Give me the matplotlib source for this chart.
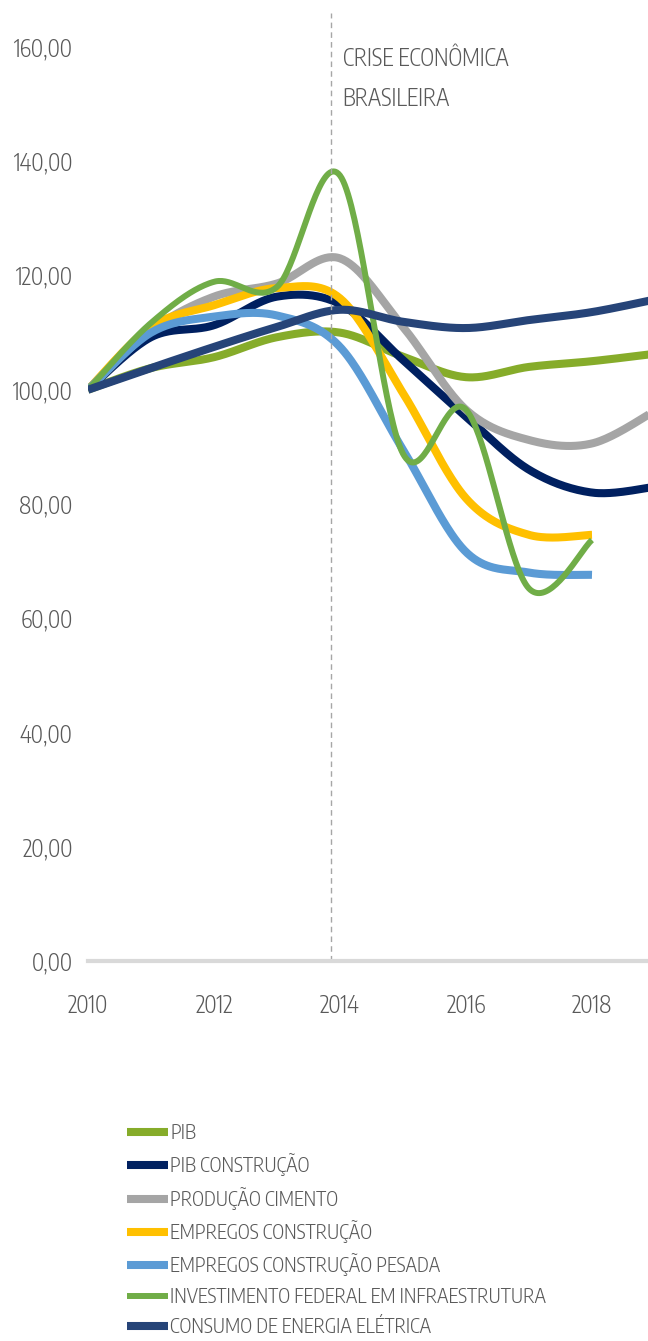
import numpy as np
import matplotlib
matplotlib.use("Agg")
import matplotlib.pyplot as plt

plt.rcParams['font.family'] = ['Encode Sans Condensed', 'DejaVu Sans']
plt.rcParams['font.weight'] = 300

years = [2010, 2011, 2012, 2013, 2014, 2015, 2016, 2017, 2018, 2019]

pib = [100, 103.8, 105.7, 109.2, 110.0, 105.8, 102.2, 104.0, 105.0, 106.3]
pib_construcao = [100, 109.2, 111.3, 116.3, 115.0, 105.2, 95.3, 86.0, 82.0, 83.0]
producao_cimento = [100, 110.4, 116.3, 118.6, 123.0, 111.0, 96.5, 91.2, 90.6, 96.3]
empregos_construcao = [100, 111.0, 114.8, 117.8, 116.0, 99.4, 81.0, 74.6, 74.6]
empregos_pesada = [100, 110.0, 112.8, 113.0, 107.5, 89.5, 71.6, 68.0, 67.6]
investimento = [100, 111.7, 118.9, 118.0, 137.5, 88.8, 96.5, 65.2, 73.7]
energia = [100, 103.8, 107.5, 111.0, 114.0, 111.9, 110.8, 112.2, 113.6, 115.8]

labels = ["PIB", "PIB CONSTRUÇÃO", "PRODUÇÃO CIMENTO", "EMPREGOS CONSTRUÇÃO",
          "EMPREGOS CONSTRUÇÃO PESADA", "INVESTIMENTO FEDERAL EM INFRAESTRUTURA",
          "CONSUMO DE ENERGIA ELÉTRICA"]
series = [pib, pib_construcao, producao_cimento, empregos_construcao,
          empregos_pesada, investimento, energia]
colors = ["#86AC2A", "#002060", "#A5A5A5", "#FFC000", "#5B9BD5", "#70AD47", "#264478"]
widths = [5.8, 5.8, 5.8, 5.8, 5.8, 4.3, 5.8]

crise_x = 2013.86
text_color = "#595959"
fs = 16.5
legend_fs = 14.3


def smooth(x, y, n=40):
    # excel-like smoothing (catmull-rom)
    x = np.asarray(x, float)
    y = np.asarray(y, float)
    px = np.concatenate([[x[0]], x, [x[-1]]])
    py = np.concatenate([[y[0]], y, [y[-1]]])
    xs, ys = [], []
    t = np.linspace(0, 1, n)
    for i in range(1, len(px) - 2):
        p0 = np.array([px[i], py[i]])
        p3 = np.array([px[i + 1], py[i + 1]])
        p1 = p0 + (np.array([px[i + 1], py[i + 1]]) - np.array([px[i - 1], py[i - 1]])) / 6
        p2 = p3 - (np.array([px[i + 2], py[i + 2]]) - np.array([px[i], py[i]])) / 6
        b = ((1 - t) ** 3)[:, None] * p0 + (3 * (1 - t) ** 2 * t)[:, None] * p1 \
            + (3 * (1 - t) * t ** 2)[:, None] * p2 + (t ** 3)[:, None] * p3
        xs.extend(b[:, 0])
        ys.extend(b[:, 1])
    return xs, ys


fig = plt.figure(figsize=(6.48, 13.41), dpi=100)
ax = fig.add_axes([88 / 648, (1341 - 961) / 1341, 1 - 88 / 648, 961 / 1341])

for s, lab, c, w in zip(series, labels, colors, widths):
    xs, ys = smooth(years[:len(s)], s)
    ax.plot(xs, ys, color=c, lw=w, label=lab, solid_capstyle='butt')

ax.plot([crise_x, crise_x], [0, 166], color="#A6A6A6", lw=1, ls=(0, (4, 3)), clip_on=False)
ax.text(crise_x + 0.18, 157.9, "CRISE ECONÔMICA", color=text_color, fontsize=fs, va='center')
ax.text(crise_x + 0.18, 150.9, "BRASILEIRA", color=text_color, fontsize=fs, va='center')

ax.set_xlim(2010, 2010 + 560 / 63)
ax.set_ylim(0, 961 / 5.7125)
ax.set_yticks([0, 20, 40, 60, 80, 100, 120, 140, 160])
ax.set_yticklabels([f"{v:.2f}".replace(".", ",") for v in ax.get_yticks()])
ax.set_xticks([2010, 2012, 2014, 2016, 2018])
ax.tick_params(axis='y', length=0, pad=11, labelsize=fs, labelcolor=text_color)
ax.tick_params(axis='x', length=0, pad=24, labelsize=fs, labelcolor=text_color)

for side in ["top", "right", "left"]:
    ax.spines[side].set_visible(False)
ax.spines["bottom"].set_color("#D9D9D9")
ax.spines["bottom"].set_linewidth(3)

fig.legend(loc='upper left', bbox_to_anchor=(127 / 648, (1341 - 1123) / 1341),
           frameon=False, fontsize=legend_fs, labelcolor=text_color, handlelength=2.05,
           handletextpad=0.12, labelspacing=0.52, borderpad=0, borderaxespad=0)

fig.savefig("out.png", dpi=100)
